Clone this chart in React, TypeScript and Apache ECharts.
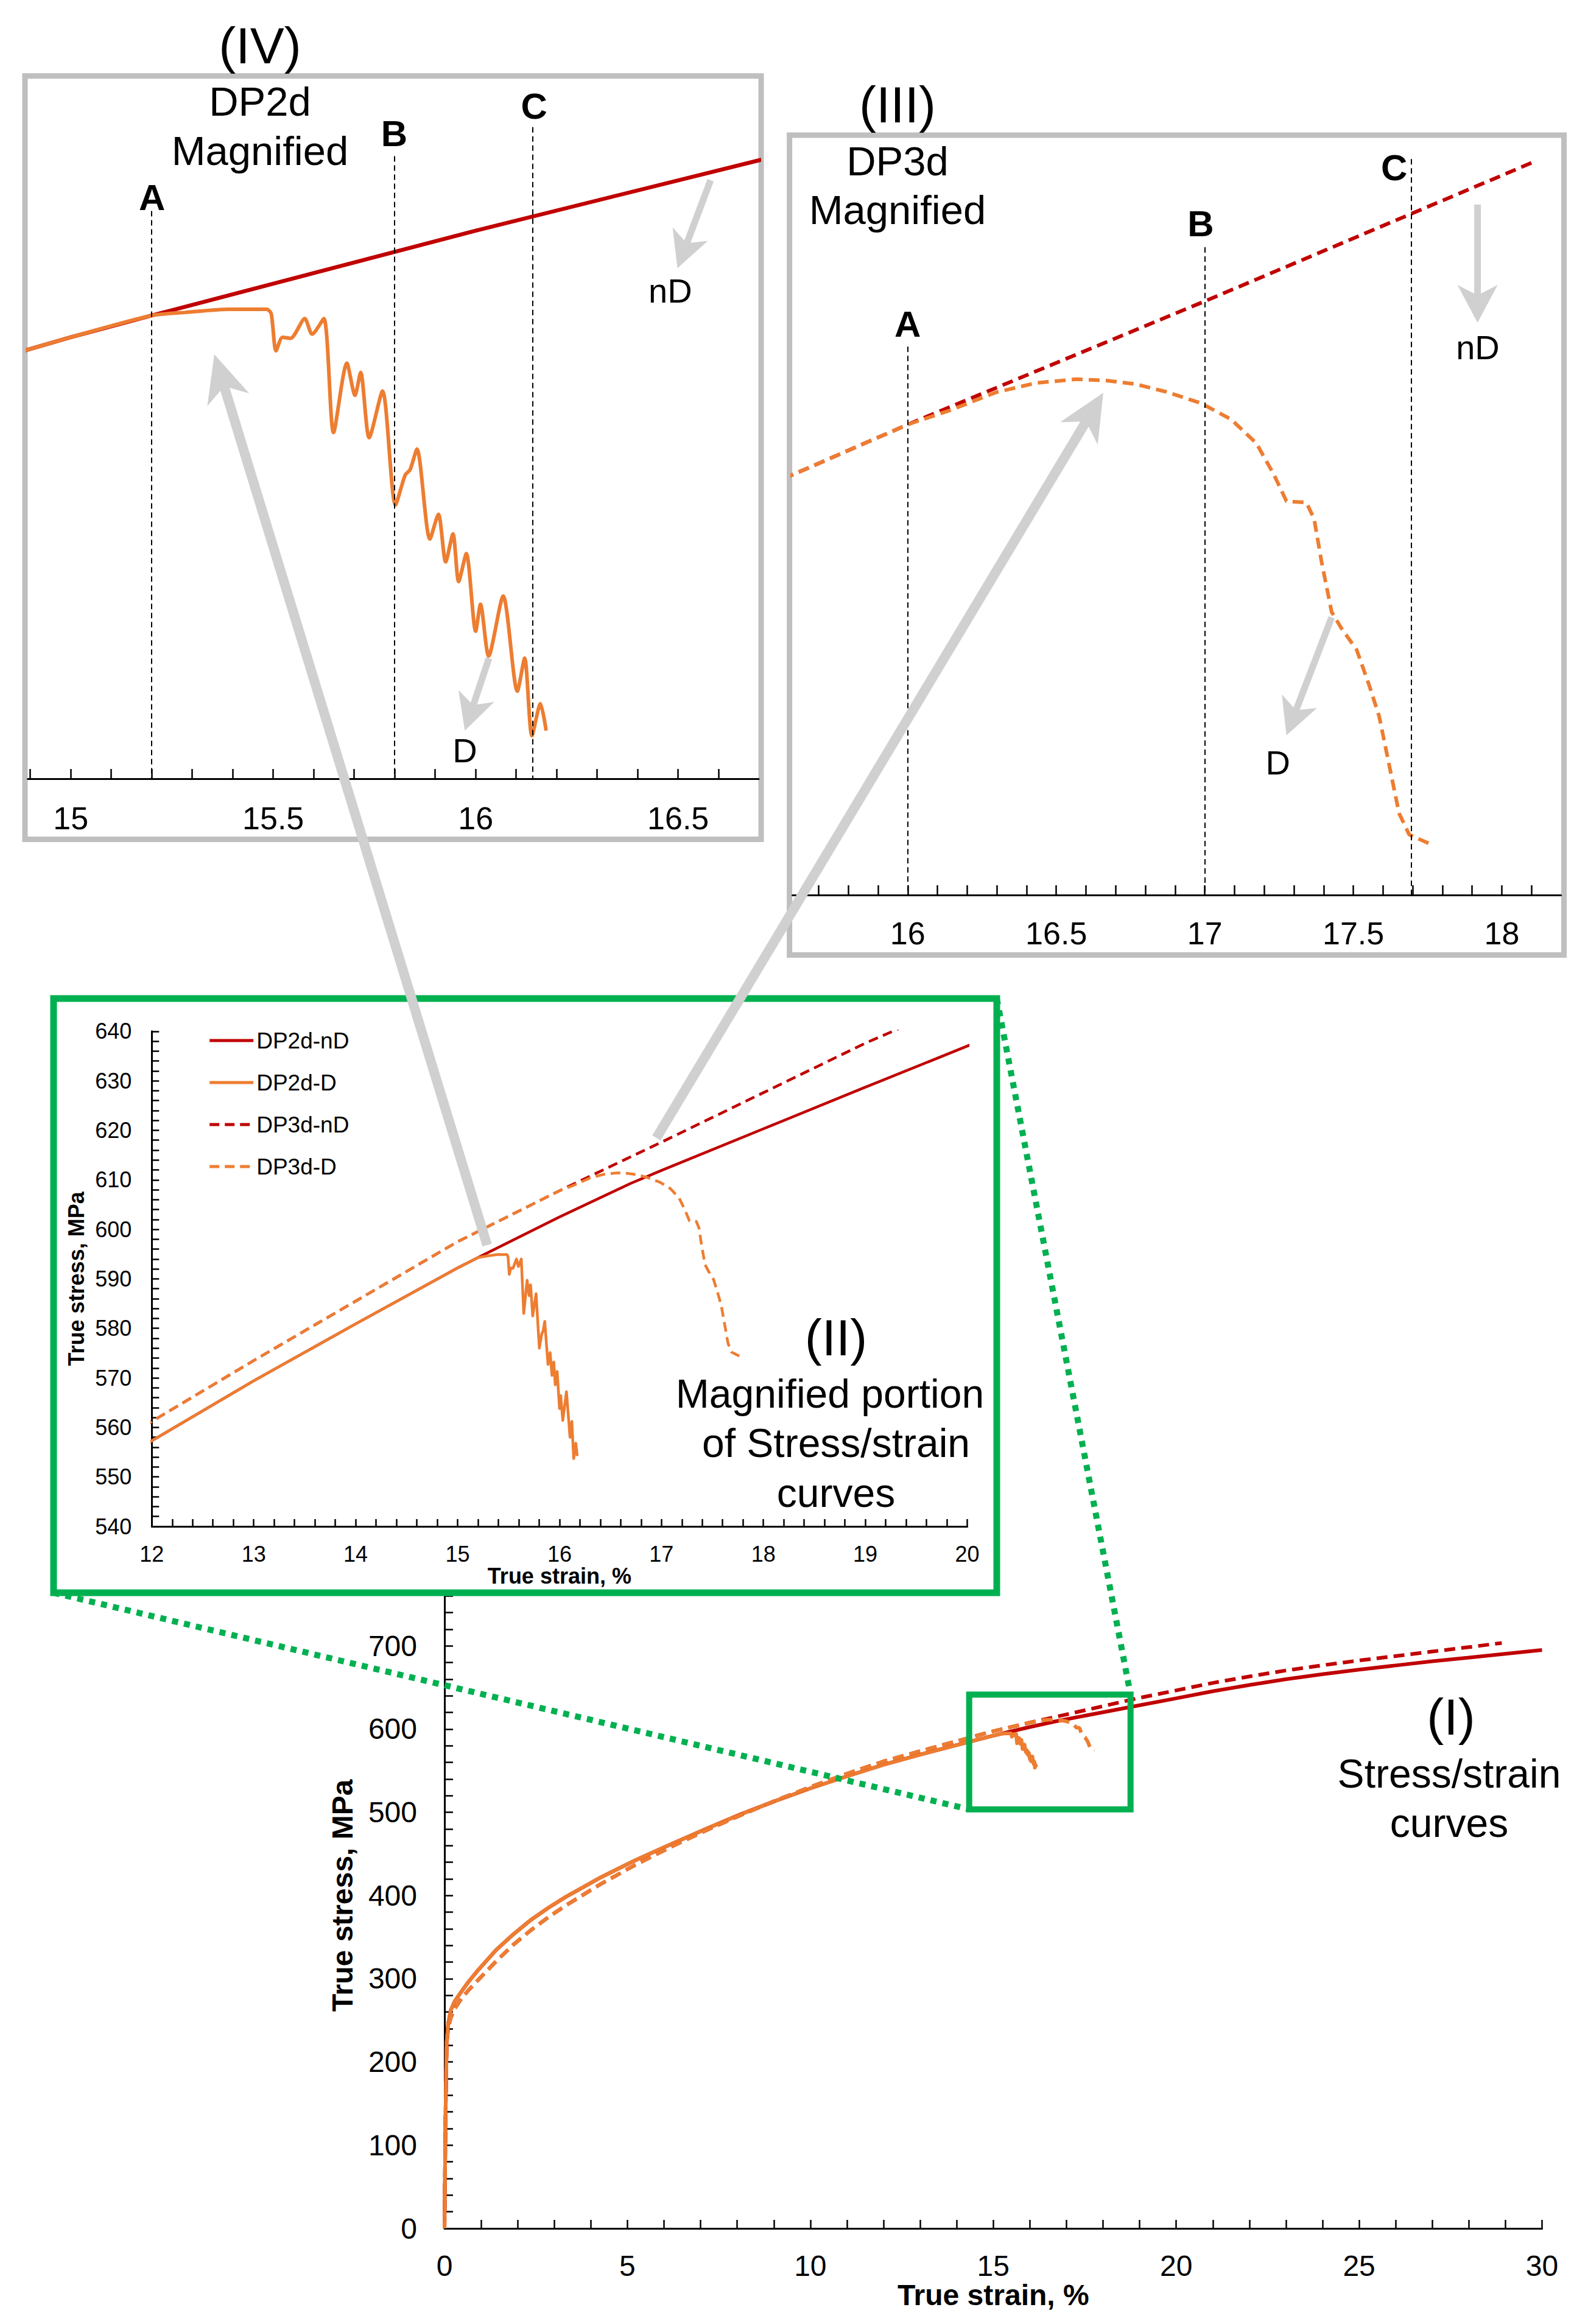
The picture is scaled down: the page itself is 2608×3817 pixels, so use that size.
import React, { useEffect, useRef } from "react";
import * as echarts from "echarts";

const FONT = '"Liberation Sans", Arial, Helvetica, sans-serif';
const DARK_RED = "#C00000";
const ORANGE = "#ED7D31";
const GREEN = "#00B050";
const GREY_BOX = "#BFBFBF";
const GREY_ARROW = "#D0D0D0";

// ---- Data (true strain %, true stress MPa) ----
const seriesNames = ["DP2d-nD", "DP2d-D", "DP3d-nD", "DP3d-D"];

const dp2dNdStrain = [0, 0.03, 0.06, 0.1, 0.17, 0.28, 0.46, 0.65, 0.93, 1.41, 1.89, 2.37, 2.85, 3.32, 4.28, 5.23, 6.19, 7.14, 8.1, 9.05, 10.01, 10.97, 12, 13, 14, 15, 15.2, 16, 16.7, 17, 18, 19, 20, 21, 22, 23, 24, 25, 26, 27, 28, 29, 30];
const dp2dNdStress = [0, 140, 225, 246, 262, 273, 284.5, 296, 311, 334.5, 353.7, 371, 385.6, 398.5, 422, 442.7, 461.7, 480, 497.8, 513.8, 529, 542.9, 557.3, 569.4, 580.9, 592.2, 594.3, 602.5, 609.3, 611.9, 620.3, 628.7, 637, 645.5, 653, 660, 666, 671.5, 676.5, 681.5, 686, 690.5, 695];

// DP2d-D leaves the DP2d-nD curve at 15.2 %
const dp2dSplitStrain = 15.2;
const dp2dDropStrain = [15.283, 15.389, 15.484, 15.495, 15.507, 15.523, 15.543, 15.578, 15.596, 15.625, 15.649, 15.682, 15.702, 15.716, 15.737, 15.77, 15.802, 15.826, 15.838, 15.855, 15.887, 15.908, 15.926, 15.944, 15.958, 15.977, 16.0, 16.012, 16.032, 16.068, 16.103, 16.121, 16.139, 16.16, 16.174];
const dp2dDropStress = [594.6, 594.9, 594.9, 594.5, 590.9, 592.2, 592.1, 594.0, 592.5, 594.0, 583.0, 589.7, 586.6, 588.8, 582.5, 587.0, 576.0, 578.9, 579.4, 581.4, 572.7, 575.1, 570.5, 573.2, 568.6, 571.3, 563.8, 566.4, 561.4, 567.2, 558.0, 561.2, 553.7, 556.8, 554.2];

const dp3dNdStrain = [0, 0.03, 0.06, 0.1, 0.17, 0.28, 0.46, 0.65, 0.93, 1.41, 1.89, 2.37, 2.85, 3.32, 4.28, 5.23, 6.19, 7.14, 8.1, 9.05, 10.01, 10.97, 12, 13, 14, 15, 16, 17, 18, 19, 20, 21, 22, 23, 24, 25, 26, 27, 28, 28.9];
const dp3dNdStress = [0, 140, 222, 240, 253, 264, 276, 286, 299, 321, 341.2, 358.7, 374.3, 388.2, 414.1, 437.2, 458.5, 478.1, 496.7, 514.1, 530.6, 546, 561.2, 573.5, 585.5, 597.5, 607.8, 617.6, 627.6, 637.6, 646.5, 655.5, 663.3, 670.5, 676.7, 682.5, 687.8, 693.2, 698.5, 703.5];

// DP3d-D leaves the DP3d-nD curve at 16 %
const dp3dSplitStrain = 16;
const dp3dDropStrain = [16.145, 16.297, 16.432, 16.567, 16.668, 16.769, 16.87, 16.987, 17.089, 17.174, 17.233, 17.275, 17.342, 17.368, 17.393, 17.427, 17.46, 17.511, 17.553, 17.587, 17.621, 17.654, 17.688, 17.764];
const dp3dDropStress = [608.95, 610.36, 611.1, 611.4, 611.3, 611.0, 610.4, 609.5, 608.2, 606.3, 603.8, 601.7, 601.6, 600.3, 596.9, 592.9, 591.6, 589.9, 587.1, 584.6, 580.7, 576.9, 575.2, 574.4];

// In panel (III) the DP3d-nD trace is only drawn up to here
const panel3NdEnd = [18.1, 628.6];

// Tick values of the magnified panels
const panel4Ticks = [14.9, 15, 15.1, 15.2, 15.3, 15.4, 15.5, 15.6, 15.7, 15.8, 15.9, 16, 16.1, 16.2, 16.3, 16.4, 16.5, 16.6];
const panel4Labels = [15, 15.5, 16, 16.5];
const panel3Ticks = [15.7, 15.8, 15.9, 16, 16.1, 16.2, 16.3, 16.4, 16.5, 16.6, 16.7, 16.8, 16.9, 17, 17.1, 17.2, 17.3, 17.4, 17.5, 17.6, 17.7, 17.8, 17.9, 18, 18.1];
const panel3Labels = [16, 16.5, 17, 17.5, 18];

// Marker lines A, B, C (strain) for each magnified panel
const panel4Markers = [15.2, 15.8, 16.14];
const panel4MarkerTops = [604.4, 609.7, 612.5];
const panel3Markers = [16, 17, 17.695];
const panel3MarkerTops = [614.0, 621.9, 628.9];

// ---- helpers ----
const zip = (xs: number[], ys: number[]) => xs.map((x, i) => [x, ys[i]]);
const dp2dNd = zip(dp2dNdStrain, dp2dNdStress);
const dp2dD = [
  ...zip(dp2dNdStrain, dp2dNdStress).slice(0, dp2dNdStrain.indexOf(dp2dSplitStrain) + 1),
  ...zip(dp2dDropStrain, dp2dDropStress),
];
const dp3dNd = zip(dp3dNdStrain, dp3dNdStress);
const dp3dD = [
  ...zip(dp3dNdStrain, dp3dNdStress).slice(0, dp3dNdStrain.indexOf(dp3dSplitStrain) + 1),
  ...zip(dp3dDropStrain, dp3dDropStress),
];
const dp3dNdPanel = [...dp3dNd.filter((p) => p[0] < panel3NdEnd[0]), panel3NdEnd];

function line(name: string, data: number[][], axis: number, color: string, width: number, dash: number[] | null, z: number, extra: any = {}) {
  return {
    type: "line",
    name,
    data,
    xAxisIndex: axis,
    yAxisIndex: axis,
    symbol: "none",
    showSymbol: false,
    silent: true,
    clip: true,
    z,
    itemStyle: { color },
    lineStyle: { color, width, type: dash ? dash : "solid", cap: "butt", join: "round" },
    ...extra,
  };
}

function markers(xs: number[], tops: number[], bottom: number) {
  return {
    silent: true,
    z: 13,
    symbol: ["none", "none"],
    label: { show: false },
    emphasis: { disabled: true },
    lineStyle: { color: "#000", width: 2, type: [9, 6] },
    data: xs.map((x, i) => [{ coord: [x, tops[i]] }, { coord: [x, bottom] }]),
  };
}

const axisLineStyle = { color: "#000", width: 3 };
const tickStyle = { color: "#000", width: 2.5 };

function arrow(x1: number, y1: number, x2: number, y2: number, w: number, hl: number, hw: number, notch: number) {
  const dx = x2 - x1, dy = y2 - y1;
  const L = Math.hypot(dx, dy);
  const ux = dx / L, uy = dy / L;
  const px = -uy, py = ux;
  const bx = x2 - ux * hl, by = y2 - uy * hl;
  const nx = x2 - ux * notch, ny = y2 - uy * notch;
  return [
    { type: "line", z: 20, silent: true, shape: { x1, y1, x2: nx + ux * 6, y2: ny + uy * 6 }, style: { stroke: GREY_ARROW, lineWidth: w } },
    {
      type: "polygon", z: 20, silent: true,
      shape: { points: [[x2, y2], [bx + px * hw, by + py * hw], [nx, ny], [bx - px * hw, by - py * hw]] },
      style: { fill: GREY_ARROW },
    },
  ];
}

function txt(text: string, x: number, y: number, size: number, bold = false) {
  return {
    type: "text", z: 21, silent: true, x, y,
    style: {
      text, fill: "#000", fontSize: size, fontFamily: FONT, fontWeight: bold ? "bold" : "normal",
      align: "center", verticalAlign: "middle", textAlign: "center", textVerticalAlign: "middle",
    },
  };
}

function buildOption() {
  const grids = [
    { left: 730, top: 2566.6, width: 1802.5, height: 1093.4 },
    { left: 249.3, top: 1693.8, width: 1339.2, height: 813.2 },
    { left: 45.7, top: 129.6, width: 1200.3, height: 1149.4 },
    { left: 1301.5, top: 228.2, width: 1262.1, height: 1241.8 },
  ];

  const xAxis = [
    {
      type: "value", gridIndex: 0, min: 0, max: 30, interval: 5, z: 0,
      axisLine: { show: true, onZero: false, lineStyle: axisLineStyle },
      axisTick: { show: true, inside: true, length: 14, lineStyle: tickStyle },
      minorTick: { show: true, splitNumber: 5, length: 14, lineStyle: tickStyle },
      splitLine: { show: false },
      axisLabel: { fontSize: 48, color: "#000", margin: 37, fontFamily: FONT },
      name: "True strain, %", nameLocation: "middle", nameGap: 85,
      nameTextStyle: { fontSize: 48, fontWeight: "bold", color: "#000", fontFamily: FONT },
    },
    {
      type: "value", gridIndex: 1, min: 12, max: 20, interval: 1, z: 11,
      axisLine: { show: true, onZero: false, lineStyle: axisLineStyle },
      axisTick: { show: true, inside: true, length: 12, lineStyle: tickStyle },
      minorTick: { show: true, splitNumber: 5, length: 12, lineStyle: tickStyle },
      splitLine: { show: false },
      axisLabel: { fontSize: 36, color: "#000", margin: 27, fontFamily: FONT },
      name: "True strain, %", nameLocation: "middle", nameGap: 62,
      nameTextStyle: { fontSize: 36, fontWeight: "bold", color: "#000", fontFamily: FONT },
    },
    {
      type: "value", gridIndex: 2, min: 14.894, max: 16.699, z: 11,
      axisLine: { show: true, onZero: false, lineStyle: axisLineStyle },
      axisTick: { show: true, inside: true, length: 16, lineStyle: tickStyle, customValues: panel4Ticks },
      splitLine: { show: false },
      axisLabel: { fontSize: 52, color: "#000", margin: 39, fontFamily: FONT, customValues: panel4Labels },
    },
    {
      type: "value", gridIndex: 3, min: 15.612, max: 18.199, z: 11,
      axisLine: { show: true, onZero: false, lineStyle: axisLineStyle },
      axisTick: { show: true, inside: true, length: 16, lineStyle: tickStyle, customValues: panel3Ticks },
      splitLine: { show: false },
      axisLabel: { fontSize: 52, color: "#000", margin: 37, fontFamily: FONT, customValues: panel3Labels },
    },
  ];

  const yAxis = [
    {
      type: "value", gridIndex: 0, min: 0, max: 800, interval: 100, z: 0,
      axisLine: { show: true, onZero: false, lineStyle: axisLineStyle },
      axisTick: { show: true, inside: true, length: 14, lineStyle: tickStyle },
      minorTick: { show: true, splitNumber: 5, length: 14, lineStyle: tickStyle },
      splitLine: { show: false },
      axisLabel: { fontSize: 48, color: "#000", margin: 45, fontFamily: FONT },
      name: "True stress, MPa", nameLocation: "middle", nameGap: 144,
      nameTextStyle: { fontSize: 48, fontWeight: "bold", color: "#000", fontFamily: FONT },
    },
    {
      type: "value", gridIndex: 1, min: 540, max: 640, interval: 10, z: 11,
      axisLine: { show: true, onZero: false, lineStyle: axisLineStyle },
      axisTick: { show: true, inside: true, length: 12, lineStyle: tickStyle },
      minorTick: { show: true, splitNumber: 5, length: 12, lineStyle: tickStyle },
      splitLine: { show: false },
      axisLabel: { fontSize: 36, color: "#000", margin: 33, fontFamily: FONT },
      name: "True stress, MPa", nameLocation: "middle", nameGap: 106,
      nameTextStyle: { fontSize: 36, fontWeight: "bold", color: "#000", fontFamily: FONT },
    },
    { type: "value", gridIndex: 2, min: 549.55, max: 617.16, show: false, splitLine: { show: false } },
    { type: "value", gridIndex: 3, min: 570.4, max: 630.5, show: false, splitLine: { show: false } },
  ];

  const series = [
    // inset (II)
    line(seriesNames[0], dp2dNd, 1, DARK_RED, 4.5, null, 12),
    line(seriesNames[1], dp2dD, 1, ORANGE, 4.5, null, 12),
    line(seriesNames[2], dp3dNd, 1, DARK_RED, 4.5, [16, 9], 12),
    line(seriesNames[3], dp3dD, 1, ORANGE, 4.5, [16, 9], 12),
    // main (I)
    line(seriesNames[0], dp2dNd, 0, DARK_RED, 6, null, 2),
    line(seriesNames[1], dp2dD, 0, ORANGE, 6, null, 2),
    line(seriesNames[2], dp3dNd, 0, DARK_RED, 6, [18, 10], 2),
    line(seriesNames[3], dp3dD, 0, ORANGE, 6, [18, 10], 2),
    // panel (IV)
    line(seriesNames[0], dp2dNd, 2, DARK_RED, 6.5, null, 12, { markLine: markers(panel4Markers, panel4MarkerTops, 549.55) }),
    line(seriesNames[1], dp2dD, 2, ORANGE, 6, null, 12, { smooth: 0.25 }),
    // panel (III)
    line(seriesNames[2], dp3dNdPanel, 3, DARK_RED, 6, [18, 10], 12, { markLine: markers(panel3Markers, panel3MarkerTops, 570.4) }),
    line(seriesNames[3], dp3dD, 3, ORANGE, 6, [18, 10], 12),
  ];

  const elements: any[] = [
    // zoom box on the main chart and dotted connectors
    { type: "rect", z: 5, silent: true, shape: { x: 1591.7, y: 2783.3, width: 265, height: 188.4 }, style: { fill: "none", stroke: GREEN, lineWidth: 10 } },
    { type: "line", z: 5, silent: true, shape: { x1: 88, y1: 2616, x2: 1591.7, y2: 2971.7 }, style: { stroke: GREEN, lineWidth: 10, lineDash: [10, 10] } },
    { type: "line", z: 5, silent: true, shape: { x1: 1637, y1: 1640, x2: 1856.7, y2: 2783.3 }, style: { stroke: GREEN, lineWidth: 10, lineDash: [10, 10] } },
    // panel frames
    { type: "rect", z: 10, silent: true, shape: { x: 88, y: 1640, width: 1549, height: 976 }, style: { fill: "#fff", stroke: GREEN, lineWidth: 11 } },
    { type: "rect", z: 10, silent: true, shape: { x: 41, y: 124.7, width: 1209, height: 1253.9 }, style: { fill: "#fff", stroke: GREY_BOX, lineWidth: 9 } },
    { type: "rect", z: 10, silent: true, shape: { x: 1296.6, y: 222, width: 1271.9, height: 1346.5 }, style: { fill: "#fff", stroke: GREY_BOX, lineWidth: 9 } },
    // arrows
    ...arrow(800, 2045, 352, 582, 16, 78, 36, 55),
    ...arrow(1078, 1869, 1812, 645, 16, 78, 36, 55),
    ...arrow(1167, 296, 1112.5, 440.6, 11, 60, 31, 44),
    ...arrow(803, 1081, 763.4, 1200, 11, 60, 31, 44),
    ...arrow(2426.6, 336, 2426.6, 530, 11, 62, 33, 45),
    ...arrow(2187, 1014, 2112.7, 1207.7, 11, 60, 31, 44),
    // texts panel IV
    txt("(IV)", 427, 75, 84),
    txt("DP2d", 427, 166, 67),
    txt("Magnified", 427, 247, 67),
    txt("A", 249.6, 324, 60, true),
    txt("B", 647.4, 219, 60, true),
    txt("C", 877.2, 174, 60, true),
    txt("nD", 1100.8, 477, 56),
    txt("D", 763.4, 1232, 56),
    // texts panel III
    txt("(III)", 1474, 172, 84),
    txt("DP3d", 1474, 264, 67),
    txt("Magnified", 1474, 344, 67),
    txt("A", 1490.7, 532.7, 60, true),
    txt("B", 1972, 367, 60, true),
    txt("C", 2289.6, 275, 60, true),
    txt("nD", 2427, 570, 56),
    txt("D", 2098.7, 1252, 56),
    // texts inset II
    txt("(II)", 1373, 2197, 84),
    txt("Magnified portion", 1363, 2289, 66),
    txt("of Stress/strain", 1373, 2370, 66),
    txt("curves", 1373, 2452, 66),
    // texts main I
    txt("(I)", 2383, 2820, 84),
    txt("Stress/strain", 2380, 2913, 66),
    txt("curves", 2380, 2994, 66),
  ];

  return {
    animation: false,
    backgroundColor: "#fff",
    textStyle: { fontFamily: FONT },
    grid: grids,
    xAxis,
    yAxis,
    legend: {
      data: seriesNames,
      orient: "vertical",
      left: 341.7,
      top: 1689,
      padding: 0,
      itemWidth: 72,
      itemHeight: 20,
      itemGap: 29,
      selectedMode: false,
      z: 12,
      itemStyle: { opacity: 0, color: "rgba(0,0,0,0)", borderWidth: 0 },
      lineStyle: { width: 5 },
      textStyle: { fontSize: 37, lineHeight: 40, color: "#000", fontFamily: FONT },
    },
    series,
    graphic: { elements },
  };
}

export default function App() {
  const ref = useRef<HTMLDivElement | null>(null);
  useEffect(() => {
    if (!ref.current) return;
    const chart = echarts.init(ref.current, null, { renderer: "svg" });
    chart.setOption(buildOption() as any);
    return () => chart.dispose();
  }, []);
  return (
    <div
      ref={ref}
      style={{ position: "absolute", left: 0, top: 0, width: 2608, height: 3817, background: "#fff" }}
    />
  );
}
